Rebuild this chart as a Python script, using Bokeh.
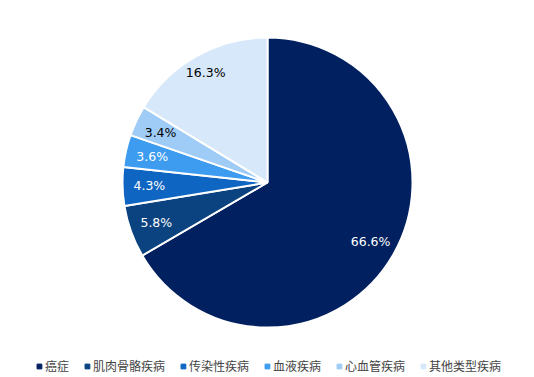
import math
from bokeh.plotting import figure
from bokeh.models import Range1d, ColumnDataSource, Legend, LegendItem
from bokeh.core.properties import value
from bokeh.embed import file_html
from bokeh.resources import INLINE

categories = ["癌症", "肌肉骨骼疾病", "传染性疾病", "血液疾病", "心血管疾病", "其他类型疾病"]
shares = [66.6, 5.8, 4.3, 3.6, 3.4, 16.3]
colors = ["#002060", "#0B4380", "#0F65C2", "#3D9CF0", "#9FCCF6", "#D6E8FA"]
label_colors = ["white", "white", "white", "white", "black", "black"]

W, H = 534, 377
cx, cy = 0, 0
R = 145

p = figure(width=W, height=H, output_backend="svg", toolbar_location=None,
           x_range=Range1d(-267, 267), y_range=Range1d(-195, 182),
           min_border=0, outline_line_color=None)
p.axis.visible = False
p.grid.visible = False
p.background_fill_color = "white"

total = sum(shares)
starts, ends, mids = [], [], []
a = math.pi / 2
for v in shares:
    sweep = v / total * 2 * math.pi
    starts.append(a - sweep)
    ends.append(a)
    mids.append(a - sweep / 2)
    a -= sweep

src = ColumnDataSource(dict(start=starts, end=ends, color=colors))
p.wedge(x=cx, y=cy, radius=R, start_angle="start", end_angle="end",
        fill_color="color", line_color="white", line_width=2, source=src)

lr = [0.815 * R if v < 10 else (0.82 * R) for v in shares]
lr[-1] = 0.87 * R
lx = [cx + r * math.cos(m) for r, m in zip(lr, mids)]
ly = [cy + r * math.sin(m) for r, m in zip(lr, mids)]
labels = [f"{v:.1f}%" for v in shares]
lsrc = ColumnDataSource(dict(x=lx, y=ly, t=labels, c=label_colors))
p.text(x="x", y="y", text="t", text_color="c", source=lsrc,
       text_align="center", text_baseline="middle",
       text_font=value("DejaVu Sans"), text_font_size="12.5px")

items = []
for i, (cat, col) in enumerate(zip(categories, colors)):
    r = p.scatter(x=[10000], y=[10000], marker="square", fill_color=col,
                  line_color=col, size=5)
    items.append(LegendItem(label=cat, renderers=[r]))

legend = Legend(items=items, orientation="horizontal", location="bottom_center",
                label_text_font="Noto Sans CJK SC", label_text_font_size="12px",
                glyph_width=12, glyph_height=12, label_standoff=0, spacing=12,
                padding=0, margin=3, border_line_color=None,
                background_fill_alpha=0, label_height=12)
p.add_layout(legend, "center")

open("out.html", "w").write(file_html(p, INLINE))
